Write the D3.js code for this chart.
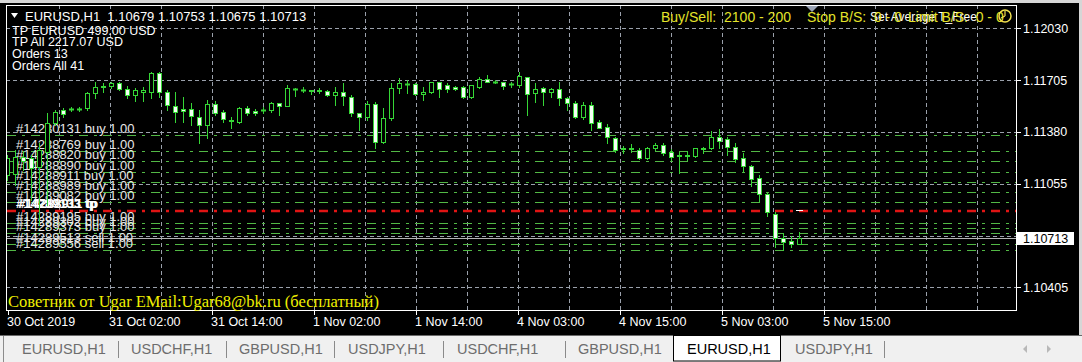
<!DOCTYPE html>
<html><head><meta charset="utf-8">
<script src="https://cdn.jsdelivr.net/npm/d3@7"></script>
<style>
html,body{margin:0;padding:0;background:#000;overflow:hidden}
svg{display:block}
text{font-family:"Liberation Sans",Arial,sans-serif}
text.serif{font-family:"Liberation Serif","Times New Roman",serif}
</style></head><body>
<svg id="c" width="1082" height="362"></svg>
<script>
// ---------- data ----------
const symbol = "EURUSD,H1";
const titleOHLC = ["1.10679", "1.10753", "1.10675", "1.10713"];
const infoLines = ["TP EURUSD 499.00 USD", "TP All 2217.07 USD", "Orders 13", "Orders All 41"];
const statusTexts = ["Buy/Sell:  2100 - 200", "Stop B/S:  0 - 0", "Limit B/S:  0 - 0"];
const statusNote = "Set Average T_Free";
const footerText = "Советник от Ugar EMail:Ugar68@bk.ru (бесплатный)";

const opens = [1.11111,1.11117,1.11224,1.11217,1.11161,1.11255,1.11437,1.11518,1.11524,1.11522,
1.11531,1.11625,1.11663,1.11669,1.11688,1.11650,1.11612,1.11631,1.11631,1.11750,
1.11631,1.11543,1.11524,1.11524,1.11474,1.11424,1.11556,1.11506,1.11449,1.11443,
1.11531,1.11512,1.11516,1.11518,1.11562,1.11543,1.11652,1.11646,1.11640,1.11638,
1.11638,1.11612,1.11631,1.11600,1.11499,1.11474,1.11556,1.11318,1.11468,1.11656,
1.11683,1.11681,1.11619,1.11631,1.11694,1.11675,1.11663,1.11663,1.11600,1.11663,
1.11713,1.11696,1.11694,1.11683,1.11675,1.11725,1.11625,1.11656,1.11631,1.11650,
1.11594,1.11562,1.11474,1.11550,1.11443,1.11412,1.11343,1.11272,1.11276,1.11268,
1.11217,1.11280,1.11299,1.11255,1.11228,1.11232,1.11230,1.11272,1.11280,1.11349,
1.11337,1.11287,1.11217,1.11167,1.11092,1.10992,1.10866,1.10716,1.10697,1.10679];
const highs = [1.11236,1.11268,1.11255,1.11236,1.11312,1.11499,1.11518,1.11531,1.11537,1.11537,
1.11631,1.11694,1.11688,1.11694,1.11694,1.11669,1.11656,1.11663,1.11757,1.11757,
1.11644,1.11631,1.11600,1.11562,1.11518,1.11581,1.11575,1.11518,1.11474,1.11537,
1.11543,1.11524,1.11537,1.11569,1.11562,1.11675,1.11656,1.11663,1.11644,1.11656,
1.11644,1.11663,1.11688,1.11612,1.11499,1.11575,1.11569,1.11531,1.11688,1.11719,
1.11706,1.11688,1.11663,1.11694,1.11694,1.11688,1.11669,1.11669,1.11675,1.11725,
1.11738,1.11706,1.11694,1.11694,1.11757,1.11725,1.11688,1.11663,1.11656,1.11694,
1.11600,1.11575,1.11569,1.11569,1.11456,1.11431,1.11349,1.11293,1.11305,1.11280,
1.11287,1.11312,1.11312,1.11274,1.11255,1.11261,1.11280,1.11287,1.11387,1.11400,
1.11349,1.11312,1.11249,1.11174,1.11111,1.10998,1.10879,1.10747,1.10728,1.10753];
const lows = [1.11079,1.11048,1.11142,1.10954,1.10797,1.10923,1.11424,1.11474,1.11512,1.11512,
1.11518,1.11594,1.11631,1.11656,1.11644,1.11594,1.11575,1.11575,1.11594,1.11600,
1.11518,1.11443,1.11443,1.11424,1.11312,1.11343,1.11487,1.11443,1.11406,1.11437,
1.11487,1.11487,1.11499,1.11506,1.11487,1.11543,1.11606,1.11631,1.11619,1.11625,
1.11606,1.11550,1.11550,1.11481,1.11393,1.11456,1.11280,1.11312,1.11456,1.11625,
1.11625,1.11612,1.11581,1.11625,1.11600,1.11631,1.11644,1.11594,1.11594,1.11656,
1.11694,1.11688,1.11650,1.11663,1.11663,1.11487,1.11569,1.11550,1.11600,1.11550,
1.11518,1.11468,1.11462,1.11393,1.11406,1.11312,1.11255,1.11249,1.11255,1.11211,
1.11211,1.11268,1.11236,1.11205,1.11123,1.11205,1.11224,1.11249,1.11274,1.11280,
1.11236,1.11192,1.11136,1.11042,1.10948,1.10854,1.10659,1.10640,1.10659,1.10675];
const closes = [1.11217,1.11224,1.11199,1.11155,1.11268,1.11437,1.11506,1.11493,1.11522,1.11525,
1.11625,1.11663,1.11667,1.11688,1.11650,1.11612,1.11644,1.11644,1.11750,1.11631,
1.11550,1.11506,1.11512,1.11481,1.11424,1.11556,1.11499,1.11462,1.11452,1.11531,
1.11499,1.11499,1.11520,1.11562,1.11543,1.11656,1.11648,1.11642,1.11636,1.11640,
1.11612,1.11631,1.11606,1.11499,1.11474,1.11556,1.11318,1.11468,1.11656,1.11688,
1.11679,1.11619,1.11631,1.11694,1.11650,1.11650,1.11650,1.11600,1.11675,1.11713,
1.11694,1.11692,1.11669,1.11679,1.11731,1.11619,1.11650,1.11631,1.11650,1.11594,
1.11562,1.11474,1.11550,1.11437,1.11406,1.11349,1.11268,1.11276,1.11272,1.11217,
1.11280,1.11299,1.11249,1.11224,1.11232,1.11228,1.11280,1.11276,1.11349,1.11324,
1.11287,1.11211,1.11167,1.11085,1.10992,1.10879,1.10716,1.10691,1.10679,1.10713];

const priceTicks = [1.12030, 1.11705, 1.11380, 1.11055, 1.10730, 1.10405];
const timeLabels = ["30 Oct 2019","31 Oct 02:00","31 Oct 14:00","1 Nov 02:00","1 Nov 14:00",
                    "4 Nov 03:00","4 Nov 15:00","5 Nov 03:00","5 Nov 15:00"];
const lastPrice = 1.10713;

const orderTickets = ["#14280131","#14288769","#14288820","#14288890","#14288911","#14288989",
                      "#14289082","#14289195","#14289302","#14289373","#14289513","#14289556"];
const orderTypes = ["buy","buy","buy","buy","buy","buy","buy","buy","buy","buy","sell","sell"];
const orderLots = ["1.00","1.00","1.00","1.00","1.00","1.00","1.00","1.00","1.00","1.00","1.00","1.00"];
const orderPrices = [1.11362,1.11261,1.11199,1.11130,1.11067,1.11004,1.10942,1.10810,1.10778,1.10747,1.10678,1.10640];
const tpPrice = 1.10885;
const tpTickets = ["#14289133","#14288911"];

const tabNames = ["EURUSD,H1","USDCHF,H1","GBPUSD,H1","USDJPY,H1","USDCHF,H1","GBPUSD,H1","EURUSD,H1","USDJPY,H1"];
const activeTab = 6;

// ---------- layout ----------
const W = 1082, H = 362;
const F = {l: 6, t: 5, r: 1016, b: 310};
const svg = d3.select("#c");

svg.append("rect").attr("width", W).attr("height", 336).attr("fill", "#000");
svg.append("rect").attr("width", W).attr("height", 3).attr("fill", "#d6d6d6");
svg.append("rect").attr("x", 1079).attr("width", 3).attr("height", 336).attr("fill", "#d6d6d6");

const y = d3.scaleLinear().domain([1.10405, 1.12030]).range([287.3, 28.3]);
const xb = d3.scaleLinear().domain([0, opens.length - 1]).range([7, 799]);
const xt = d3.scaleLinear().domain([0, timeLabels.length - 1]).range([8, 824]);
const py = p => Math.round(y(p)) + 0.5;

svg.append("defs").append("clipPath").attr("id", "plot")
  .append("rect").attr("x", F.l + 1).attr("y", F.t + 1).attr("width", F.r - F.l - 1).attr("height", F.b - F.t - 1);
const plot = svg.append("g").attr("clip-path", "url(#plot)");

// grid
const gridCol = "#9aa0ab";
plot.selectAll(".hg").data(priceTicks).join("line")
  .attr("x1", F.l).attr("x2", F.r).attr("y1", py).attr("y2", py)
  .attr("stroke", gridCol).attr("stroke-dasharray", "4,3");
const vgrid = d3.range(0.5, 10, 0.5).filter(v => xt(v) < F.r);
plot.selectAll(".vg").data(vgrid).join("line")
  .attr("x1", v => Math.round(xt(v)) + 0.5).attr("x2", v => Math.round(xt(v)) + 0.5)
  .attr("y1", F.t).attr("y2", F.b)
  .attr("stroke", gridCol).attr("stroke-dasharray", "4,3");

// order lines
plot.selectAll(".ol").data(orderPrices).join("line")
  .attr("x1", F.l + 1).attr("x2", F.r).attr("y1", py).attr("y2", py)
  .attr("stroke", "#52b845").attr("stroke-width", 1).attr("stroke-dasharray", "9,6,3,6");
plot.append("line").attr("x1", F.l + 1).attr("x2", F.r)
  .attr("y1", Math.round(y(tpPrice))).attr("y2", Math.round(y(tpPrice)))
  .attr("stroke", "#e01414").attr("stroke-width", 2.5).attr("stroke-dasharray", "9,6,3,6");

// current price line
plot.append("line").attr("x1", F.l).attr("x2", F.r).attr("y1", py(lastPrice)).attr("y2", py(lastPrice))
  .attr("stroke", "#b4b4b4");

// order labels
plot.selectAll(".olab").data(orderPrices).join("text")
  .attr("x", 16).attr("y", p => Math.round(y(p)) - 2)
  .attr("fill", "#e8e8e8").attr("font-size", 13)
  .text((p, i) => `${orderTickets[i]} ${orderTypes[i]} ${orderLots[i]}`);
plot.selectAll(".tplab").data(tpTickets).join("text")
  .attr("x", (d, i) => 16 + i * 2).attr("y", Math.round(y(tpPrice)) - 3)
  .attr("fill", "#ffffff").attr("font-size", 13).attr("font-weight", "bold")
  .text(d => `${d} tp`);

// candles
const green = "#36d636";
const idx = d3.range(opens.length);
const cg = plot.append("g");
cg.selectAll(".wick").data(idx).join("line")
  .attr("x1", i => Math.round(xb(i)) + 0.5).attr("x2", i => Math.round(xb(i)) + 0.5)
  .attr("y1", i => Math.round(y(highs[i]))).attr("y2", i => Math.round(y(lows[i])) + 1)
  .attr("stroke", green);
cg.selectAll(".body").data(idx.filter(i => Math.round(y(opens[i])) !== Math.round(y(closes[i])))).join("rect")
  .attr("x", i => Math.round(xb(i)) - 2 + 0.5)
  .attr("y", i => Math.round(y(Math.max(opens[i], closes[i]))) + 0.5)
  .attr("width", 4)
  .attr("height", i => Math.round(y(Math.min(opens[i], closes[i]))) - Math.round(y(Math.max(opens[i], closes[i]))))
  .attr("fill", i => closes[i] >= opens[i] ? "#000" : "#f4fff4")
  .attr("stroke", green);
cg.selectAll(".doji").data(idx.filter(i => Math.round(y(opens[i])) === Math.round(y(closes[i])))).join("line")
  .attr("x1", i => Math.round(xb(i)) - 2).attr("x2", i => Math.round(xb(i)) + 3)
  .attr("y1", i => py(closes[i])).attr("y2", i => py(closes[i]))
  .attr("stroke", green).attr("stroke-width", 2);

// average marker
plot.append("line").attr("x1", xb(opens.length - 1) - 3).attr("x2", xb(opens.length - 1) + 4)
  .attr("y1", Math.round(y(tpPrice)) - 0.5).attr("y2", Math.round(y(tpPrice)) - 0.5)
  .attr("stroke", "#ffffff");

// frame
svg.append("rect").attr("x", F.l + 0.5).attr("y", F.t + 0.5).attr("width", F.r - F.l).attr("height", F.b - F.t)
  .attr("fill", "none").attr("stroke", "#ffffff");

// price axis
const pa = svg.append("g");
const shownTicks = priceTicks.filter(p => Math.abs(y(p) - y(lastPrice)) > 10);
pa.selectAll("line").data(priceTicks).join("line")
  .attr("x1", F.r).attr("x2", F.r + 5).attr("y1", py).attr("y2", py).attr("stroke", "#fff");
pa.selectAll("text").data(shownTicks).join("text")
  .attr("x", 1023).attr("y", p => y(p) + 4.5).attr("fill", "#fff").attr("font-size", 12.5)
  .text(p => p.toFixed(5));
svg.append("rect").attr("x", 1017).attr("y", Math.round(y(lastPrice)) - 6).attr("width", 57).attr("height", 13).attr("fill", "#fff");
svg.append("text").attr("x", 1023).attr("y", y(lastPrice) + 4.5).attr("fill", "#000").attr("font-size", 12.5)
  .text(lastPrice.toFixed(5));

// time axis
const ta = svg.append("g");
ta.selectAll("line").data(d3.range(timeLabels.length)).join("line")
  .attr("x1", i => Math.round(xt(i)) + 0.5).attr("x2", i => Math.round(xt(i)) + 0.5)
  .attr("y1", F.b).attr("y2", F.b + 5).attr("stroke", "#fff");
ta.selectAll("text").data(timeLabels).join("text")
  .attr("x", (d, i) => Math.round(xt(i)) - 1).attr("y", 325.5).attr("fill", "#fff").attr("font-size", 12.5)
  .text(d => d);

// title & info
svg.append("path").attr("d", "M11,13 L18,13 L14.5,18 Z").attr("fill", "#fff");
svg.append("text").attr("x", 25).attr("y", 20.5).attr("fill", "#fff").attr("font-size", 13)
  .style("white-space", "pre").text(`${symbol}  ${titleOHLC.join(" ")}`);
svg.selectAll(".info").data(infoLines).join("text")
  .attr("x", 12).attr("y", (d, i) => 34.5 + i * 11.8).attr("fill", "#fff").attr("font-size", 12.5)
  .text(d => d);

// status (top right)
const yellow = "#e4e42a";
const statusX = [661, 807, 908];
svg.append("path").attr("d", "M806,6 L818,6 L812,12 Z").attr("fill", "#9aa3b5");
svg.append("text").attr("x", 870).attr("y", 21).attr("fill", "#fff").attr("font-size", 12)
  .text(statusNote);
svg.selectAll(".st").data(statusTexts).join("text")
  .attr("x", (d, i) => statusX[i]).attr("y", 22).attr("fill", yellow).attr("font-size", 14)
  .style("white-space", "pre").text(d => d);
svg.append("circle").attr("cx", 1005).attr("cy", 16).attr("r", 6).attr("fill", "none").attr("stroke", "#f0e050").attr("stroke-width", 1.5);
svg.append("path").attr("d", "M1005,16 L1005,11 M1005,16 L1001,18").attr("stroke", "#f0e050").attr("stroke-width", 1.2).attr("fill", "none");

// footer
svg.append("text").attr("class", "serif").attr("x", 8).attr("y", 306.5).attr("fill", "#f0f000")
  .attr("font-size", 16.5)
  .text(footerText);

// tab bar
svg.append("rect").attr("y", 336).attr("width", W).attr("height", 26).attr("fill", "#f0f0f0");
svg.append("line").attr("x1", 0).attr("x2", W).attr("y1", 335.5).attr("y2", 335.5).attr("stroke", "#6a6a6a");
svg.append("line").attr("x1", 3.5).attr("x2", 3.5).attr("y1", 336).attr("y2", 362).attr("stroke", "#8c8c8c");
const tabX = [22, 131, 239, 348, 457, 578, 687, 795];
const sepX = [118, 226, 334, 443, 565, 884];
svg.append("rect").attr("x", 673.5).attr("y", 335.5).attr("width", 107).attr("height", 25.5)
  .attr("fill", "#fff").attr("stroke", "#000");
svg.selectAll(".sep").data(sepX).join("line")
  .attr("x1", d => d + 0.5).attr("x2", d => d + 0.5).attr("y1", 341).attr("y2", 358).attr("stroke", "#8a8a8a");
svg.selectAll(".tab").data(tabNames).join("text")
  .attr("x", (d, i) => tabX[i]).attr("y", 354).attr("font-size", 14.5)
  .attr("fill", (d, i) => i === activeTab ? "#000" : "#6d6d6d").text(d => d);
svg.append("path").attr("d", "M1027,345 L1023,349 L1027,353 Z").attr("fill", "#b8b8b8");
svg.append("path").attr("d", "M1047,345 L1051,349 L1047,353 Z").attr("fill", "#b8b8b8");
</script>
</body></html>
